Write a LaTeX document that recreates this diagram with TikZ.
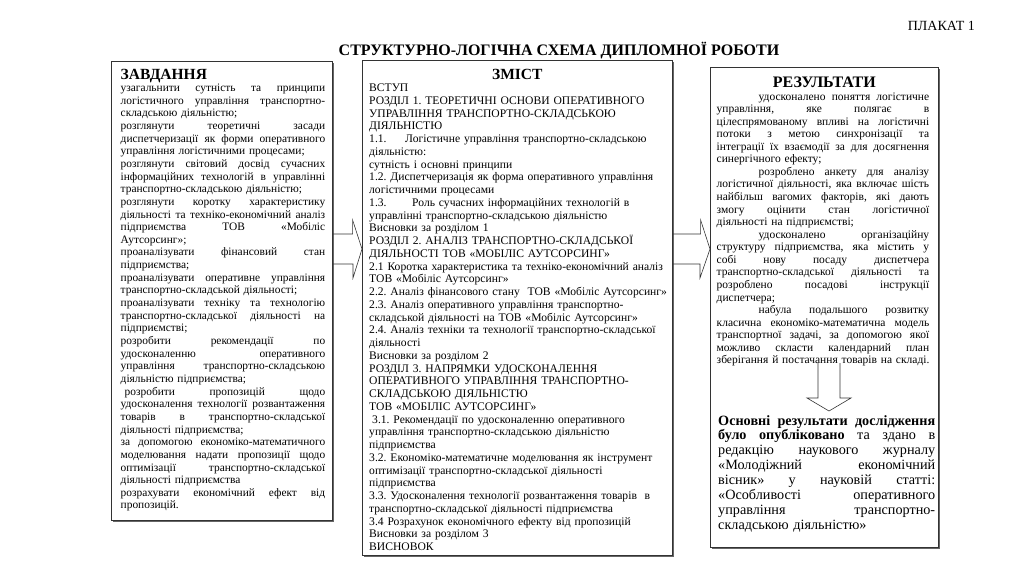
\documentclass[tikz,border=0pt]{standalone}
\usepackage{fontspec}
\setmainfont{Liberation Serif}
\usetikzlibrary{positioning,shadows,calc}

% рядок з вирівнюванням по ширині
\newlength{\jw}
\newcommand{\jl}[1]{\leavevmode\hbox to\jw{\spaceskip=\fontdimen2\font plus 1fill\relax #1}\\}
\newcommand{\jli}[1]{\leavevmode\hspace*{42pt}\hbox to\dimexpr\jw-42pt\relax{\spaceskip=\fontdimen2\font plus 1fill\relax #1}\\}

\begin{document}
\frenchspacing
\begin{tikzpicture}[x=1pt, y=-1pt,
  panel/.style={draw=black!80, line width=0.6pt, fill=white, anchor=north west,
    drop shadow={shadow xshift=1.2pt, shadow yshift=-1.2pt, fill=black!60, opacity=1}},
  head/.style={inner sep=0pt, anchor=base west, font=\fontsize{15.5}{18}\selectfont\bfseries},
  body/.style={inner sep=0pt, anchor=base west, align=left, font=\fontsize{11.4}{12.65}\selectfont},
  blk/.style={draw=black!80, line width=0.6pt, line join=miter}]
\useasboundingbox (0,0) rectangle (1024,574);

% 1. заголовок
\node[inner sep=0pt, anchor=base east, font=\fontsize{14}{16}\selectfont] (plakat) at (975,30) {ПЛАКАТ 1};
\node[inner sep=0pt, anchor=base, font=\fontsize{16}{18}\selectfont\bfseries] (title) at (559,55.5) {СТРУКТУРНО-ЛОГІЧНА СХЕМА ДИПЛОМНОЇ РОБОТИ};

% 2. рамки
\node[panel, minimum width=221pt, minimum height=459pt] (zav) at (111,61) {};
\node[panel, minimum width=310pt, minimum height=495pt] (zmist) at (362,60) {};
\node[panel, minimum width=228pt, minimum height=480pt] (res) at (710,67) {};

% 3. завдання
\node[head] (zavh) at (120.5,79) {ЗАВДАННЯ};
\node[body, text width=204.5pt] (zavtxt) at (120.5,91.5) {\setlength{\jw}{204.5pt}%
\jl{узагальнити сутність та принципи}
\jl{логістичного управління транспортно-}
складською діяльністю;\\
\jl{розглянути теоретичні засади}
\jl{диспетчеризації як форми оперативного}
управління логістичними процесами;\\
\jl{розглянути світовий досвід сучасних}
\jl{інформаційних технологій в управлінні}
транспортно-складською діяльністю;\\
\jl{розглянути коротку характеристику}
\jl{діяльності та техніко-економічний аналіз}
\jl{підприємства ТОВ «Мобіліс}
Аутсорсинг»;\\
\jl{проаналізувати фінансовий стан}
підприємства;\\
\jl{проаналізувати оперативне управління}
транспортно-складськой діяльності;\\
\jl{проаналізувати техніку та технологію}
\jl{транспортно-складської діяльності на}
підприємстві;\\
\jl{розробити рекомендації по}
\jl{удосконаленню оперативного}
\jl{управління транспортно-складською}
діяльністю підприємства;\\
\jl{\hspace{4pt}розробити пропозицій щодо}
\jl{удосконалення технології розвантаження}
\jl{товарів в транспортно-складської}
діяльності підприємства;\\
\jl{за допомогою економіко-математичного}
\jl{моделювання надати пропозиції щодо}
\jl{оптимізації транспортно-складської}
діяльності підприємства\\
\jl{розрахувати економічний ефект від}
пропозицій.};

% 4. зміст
\node[head, anchor=base] (zmisth) at (zmist.north |- 0,79) {ЗМІСТ};
\node[body, text width=302pt, font=\fontsize{11.6}{12.75}\selectfont] (zmisttxt) at (369,91.5) {%
ВСТУП\\
РОЗДІЛ 1. ТЕОРЕТИЧНІ ОСНОВИ ОПЕРАТИВНОГО\\
УПРАВЛІННЯ ТРАНСПОРТНО-СКЛАДСЬКОЮ\\
ДІЯЛЬНІСТЮ\\
\makebox[36pt][l]{1.1.}Логістичне управління транспортно-складською\\
діяльністю:\\
сутність і основні принципи\\
1.2. Диспетчеризація як форма оперативного управління\\
логістичними процесами\\
\makebox[43pt][l]{1.3.}Роль сучасних інформаційних технологій в\\
управлінні транспортно-складською діяльністю\\
Висновки за розділом 1\\
РОЗДІЛ 2. АНАЛІЗ ТРАНСПОРТНО-СКЛАДСЬКОЇ\\
ДІЯЛЬНОСТІ ТОВ «МОБІЛІС АУТСОРСИНГ»\\
2.1 Коротка характеристика та техніко-економічний аналіз\\
ТОВ «Мобіліс Аутсорсинг»\\
2.2. Аналіз фінансового стану\ \ ТОВ «Мобіліс Аутсорсинг»\\
2.3. Аналіз оперативного управління транспортно-\\
складськой діяльності на ТОВ «Мобіліс Аутсорсинг»\\
2.4. Аналіз техніки та технології транспортно-складської\\
діяльності\\
Висновки за розділом 2\\
РОЗДІЛ 3. НАПРЯМКИ УДОСКОНАЛЕННЯ\\
ОПЕРАТИВНОГО УПРАВЛІННЯ ТРАНСПОРТНО-\\
СКЛАДСЬКОЮ ДІЯЛЬНІСТЮ\\
ТОВ «МОБІЛІС АУТСОРСИНГ»\\
\hspace*{3pt}3.1. Рекомендації по удосконаленню оперативного\\
управління транспортно-складською діяльністю\\
підприємства\\
3.2. Економіко-математичне моделювання як інструмент\\
оптимізації транспортно-складської діяльності\\
підприємства\\
3.3. Удосконалення технології розвантаження товарів\ \ в\\
транспортно-складської діяльності підприємства\\
3.4 Розрахунок економічного ефекту від пропозицій\\
Висновки за розділом 3\\
ВИСНОВОК};

% 5. результати
\node[head, anchor=base, font=\fontsize{16}{18}\selectfont\bfseries] (resh) at (res.north |- 0,87.5) {РЕЗУЛЬТАТИ};
\node[body, text width=212.5pt, font=\fontsize{11.5}{12.57}\selectfont] (restxt) at (716.5,100) {\setlength{\jw}{212.5pt}%
\jli{удосконалено поняття логістичне}
\jl{управління, яке полягає в}
\jl{цілеспрямованому впливі на логістичні}
\jl{потоки з метою синхронізації та}
\jl{інтеграції їх взаємодії за для досягнення}
синергічного ефекту;\\
\jli{розроблено анкету для аналізу}
\jl{логістичної діяльності, яка включає шість}
\jl{найбільш вагомих факторів, які дають}
\jl{змогу оцінити стан логістичної}
діяльності на підприємстві;\\
\jli{удосконалено організаційну}
\jl{структуру підприємства, яка містить у}
\jl{собі нову посаду диспетчера}
\jl{транспортно-складської діяльності та}
\jl{розроблено посадові інструкції}
диспетчера;\\
\jli{набула подальшого розвитку}
\jl{класична економіко-математична модель}
\jl{транспортної задачі, за допомогою якої}
\jl{можливо скласти календарний план}
\leavevmode\hbox{зберігання й постачання товарів на складі.}};
\node[body, text width=217pt, font=\fontsize{14.2}{14.9}\selectfont] (pub) at (718,425) {\setlength{\jw}{217pt}%
\jl{\textbf{Основні результати дослідження}}
\jl{\textbf{було опубліковано} та здано в}
\jl{редакцію наукового журналу}
\jl{«Молодіжний економічний}
\jl{вісник» у науковій статті:}
\jl{«Особливості оперативного}
\jl{управління транспортно-}
складською діяльністю»};

% 6. стрілки
\coordinate (a1) at (zav.east |- 0,249);
\draw[blk] ($(a1)+(0,-15)$) -- ++(20,0) -- ++(0,-14) -- (zmist.west |- a1)
  -- ++(-9,29) -- ++(0,-14) -- (zav.east |- 0,264);
\coordinate (a2) at (zmist.east |- 0,249);
\draw[blk] ($(a2)+(0,-15)$) -- ++(28,0) -- ++(0,-14) -- (res.west |- a2)
  -- ++(-10,29) -- ++(0,-14) -- (zmist.east |- 0,264);
\coordinate (dtop) at (829,363);
\coordinate (dtip) at (829,411);
\draw[blk] ($(dtop)+(-11,0)$) -- ++(0,35) -- ++(-11,0) -- (dtip)
  -- ++(22,-13) -- ++(-11,0) -- ++(0,-35);
\end{tikzpicture}
\end{document}
